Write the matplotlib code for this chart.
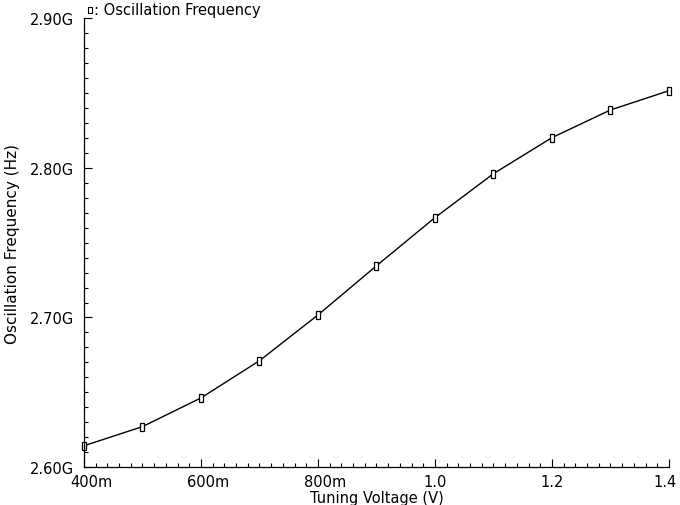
import matplotlib.pyplot as plt
from matplotlib.ticker import MultipleLocator, FixedLocator
from matplotlib.lines import Line2D
from matplotlib.transforms import ScaledTranslation

# données
tension = [0.4, 0.5, 0.6, 0.7, 0.8, 0.9, 1.0, 1.1, 1.2, 1.3, 1.4]
frequence = [2.6142, 2.6270, 2.6462, 2.6711, 2.7017, 2.7346,
             2.7668, 2.7962, 2.8203, 2.8388, 2.8517]  # en GHz

x_ticks = [0.4, 0.6, 0.8, 1.0, 1.2, 1.4]
x_labels = ["400m", "600m", "800m", "1.0", "1.2", "1.4"]
y_ticks = [2.60, 2.70, 2.80, 2.90]
y_labels = ["2.60G", "2.70G", "2.80G", "2.90G"]

plt.rcParams['font.family'] = 'DejaVu Sans'

fig = plt.figure(figsize=(6.8, 5.06), dpi=100)
ax = fig.add_axes([0.1235, 0.0751, 0.8603, 0.8864])

# marqueur rectangulaire vertical, creux
rect = [(-1, -2), (1, -2), (1, 2), (-1, 2), (-1, -2)]
ax.plot(tension, frequence, color='black', linewidth=1.0,
        marker=rect, markersize=6, markerfacecolor='white',
        markeredgecolor='black', markeredgewidth=0.9, clip_on=False)

ax.set_xlim(0.4, 1.4)
ax.set_ylim(2.60, 2.90)

ax.xaxis.set_major_locator(FixedLocator(x_ticks))
ax.set_xticklabels(x_labels)
ax.xaxis.set_minor_locator(MultipleLocator(0.02))
ax.yaxis.set_major_locator(FixedLocator(y_ticks))
ax.set_yticklabels(y_labels)
ax.yaxis.set_minor_locator(MultipleLocator(0.01))

ax.tick_params(which='both', direction='in', width=0.8, labelsize=10.5)
ax.tick_params(which='major', length=6)
ax.tick_params(which='minor', length=3)
ax.tick_params(axis='y', pad=7)
ax.tick_params(axis='x', pad=5)

# petits décalages des étiquettes x comme sur l'original
for lab in ax.get_xticklabels():
    txt = lab.get_text()
    if txt.endswith("m"):
        dx = 7 / 100
    elif txt == "1.4":
        dx = -4 / 100
    else:
        dx = 0
    lab.set_transform(lab.get_transform() + ScaledTranslation(dx, 0, fig.dpi_scale_trans))

for cote in ['top', 'right']:
    ax.spines[cote].set_visible(False)
for cote in ['left', 'bottom']:
    ax.spines[cote].set_linewidth(0.9)

ax.set_xlabel("Tuning Voltage (V)", fontsize=10.5, labelpad=1)
ax.set_ylabel("Oscillation Frequency (Hz)", fontsize=11, labelpad=7)

# légende en haut
fig.add_artist(Line2D([90 / 680], [1 - 11 / 506], marker=rect, markersize=5,
                      markerfacecolor='white', markeredgecolor='black',
                      markeredgewidth=0.8, linestyle='none',
                      transform=fig.transFigure))
fig.text(94 / 680, 1 - 11 / 506, ": Oscillation Frequency", fontsize=10.5,
         va='center', ha='left')

plt.savefig("out.png", dpi=100)
